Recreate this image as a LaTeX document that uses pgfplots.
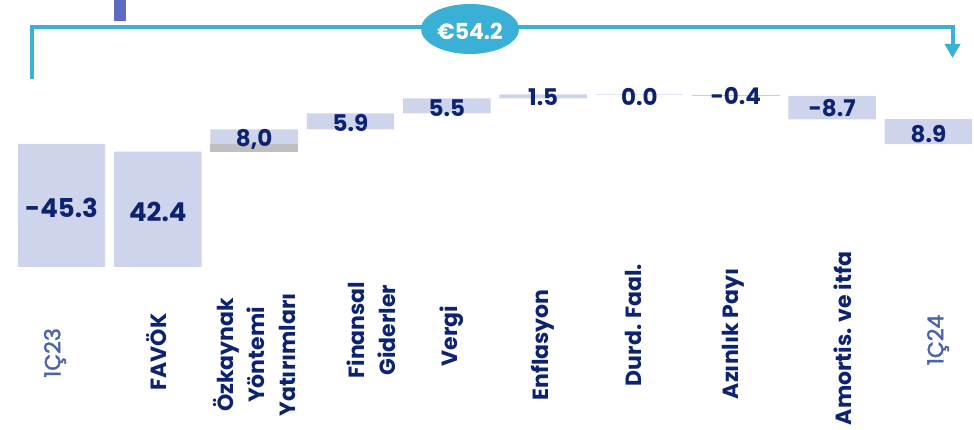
\documentclass[border=0pt]{standalone}
\usepackage{fontspec}
\setmainfont{Poppins}
\newfontfamily\qfont{Poppins}[FakeBold=2]
\usepackage{pgfplots}
\pgfplotsset{compat=1.18}
\usetikzlibrary{arrows.meta}
\definecolor{barc}{HTML}{CDD4EB}
\definecolor{greyc}{HTML}{BFBFBF}
\definecolor{navy}{HTML}{0D2370}
\definecolor{qblue}{HTML}{4C63A6}
\definecolor{cyanc}{HTML}{3BB0D6}
\definecolor{durdc}{HTML}{E1E5F2}
\definecolor{azinc}{HTML}{C5CCE8}
\definecolor{topc}{HTML}{5B6BBF}
\begin{document}
\begin{tikzpicture}[x=1pt,y=1pt]
\useasboundingbox (0,0) rectangle (974,429);
\tikzset{vl/.style={text=navy, font=\fontsize{23}{26}\selectfont\bfseries, inner sep=0pt, text depth=0pt},
         vlb/.style={text=navy, font=\fontsize{26}{30}\selectfont\bfseries, inner sep=0pt, text depth=0pt},
         cl/.style={rotate=90, text=navy, font=\fontsize{22}{31}\selectfont\bfseries, inner sep=0pt, align=center},
         ql/.style={rotate=90, text=qblue, font=\fontsize{22}{31}\qfont, inner sep=0pt, align=center}}
\begin{axis}[at={(0,0)}, anchor=south west, scale only axis,
  width=974pt, height=429pt, hide axis, clip=false,
  xmin=-0.6384, xmax=9.4726, ymin=-59.56, ymax=98.16,
  ybar stacked, bar width=0.908]
% invisible base
\addplot[draw=none, fill=none] coordinates {(0,0) (1,0) (2,42.4) (3,50.6) (4,56.5) (5,62.0) (6,63.3) (7,62.9) (8,54.3) (9,45.2)};
% grey part
\addplot[draw=none, fill=greyc] coordinates {(0,0) (1,0) (2,2.9) (3,0) (4,0) (5,0) (6,0) (7,0) (8,0) (9,0)};
% main bars
\addplot[draw=none, fill=barc] coordinates {(0,45.3) (1,42.4) (2,5.3) (3,5.9) (4,5.5) (5,1.5) (6,0) (7,0) (8,8.6) (9,9.2)};
% thin bars
\addplot[draw=none, fill=durdc] coordinates {(0,0) (1,0) (2,0) (3,0) (4,0) (5,0) (6,0.35) (7,0) (8,0) (9,0)};
\addplot[draw=none, fill=azinc] coordinates {(0,0) (1,0) (2,0) (3,0) (4,0) (5,0) (6,0) (7,0.4) (8,0) (9,0)};

% value label positions
\coordinate (v0) at (axis cs:0,21.7);
\coordinate (v1) at (axis cs:1,20.2);
\coordinate (v2) at (axis cs:2,47.4);
\coordinate (v3) at (axis cs:3,53.1);
\coordinate (v4) at (axis cs:4,58.3);
\coordinate (v5) at (axis cs:5,62.5);
\coordinate (v6) at (axis cs:6,62.7);
\coordinate (v7) at (axis cs:7,62.9);
\coordinate (v8) at (axis cs:8,58.5);
\coordinate (v9) at (axis cs:9,49.1);

% category labels
\node[ql] at (axis cs:-0.067,-31.6) {1Ç23};
\node[cl] at (axis cs:0.991,-31.25) {FAVÖK};
\node[cl] at (axis cs:2.009,-32.35) {Özkaynak\\Yöntemi\\Yatırımları};
\node[cl] at (axis cs:3.213,-23.2) {Finansal\\Giderler};
\node[cl] at (axis cs:4.054,-25.4) {Vergi};
\node[cl] at (axis cs:4.999,-28.7) {Enflasyon};
\node[cl] at (axis cs:5.933,-21.3) {Durd. Faal.};
\node[cl] at (axis cs:6.971,-24.6) {Azınlık Payı};
\node[cl] at (axis cs:8.113,-26.3) {Amortis. ve itfa};
\node[ql] at (axis cs:9.099,-26.8) {1Ç24};
\end{axis}
\node[vlb] at (v0) {-45.3};
\node[vlb] at (v1) {42.4};
\node[vl] at (v2) {8,0};
\node[vl] at (v3) {5.9};
\node[vl] at (v4) {5.5};
\node[vl] at (v5) {1.5};
\node[vl] at (v6) {0.0};
\node[vl] at (v7) {-0.4};
\node[vl] at (v8) {-8.7};
\node[vl] at (v9) {8.9};
% bracket
\draw[cyanc, line width=4pt, line join=miter, -{Triangle[length=14pt,width=15pt]}]
  (32,350) -- (32,402) -- (952.5,402) -- (952.5,371);
\fill[cyanc] (470,400) ellipse [x radius=49, y radius=25];
\node[text=white, font=\fontsize{22}{26}\selectfont\bfseries, inner sep=0pt, text depth=0pt] at (470,397.5) {€54.2};
\fill[topc] (114,408.3) rectangle (126,429);
\end{tikzpicture}
\end{document}
